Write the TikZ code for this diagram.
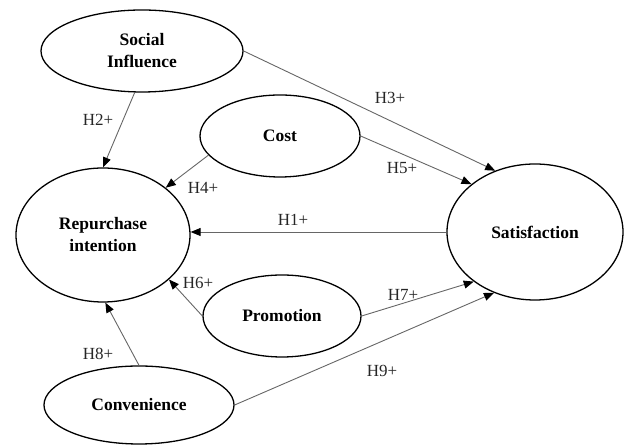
\documentclass[tikz,border=0pt]{standalone}
\usepackage{fontspec}
\setmainfont{Liberation Serif}
\usetikzlibrary{shapes.geometric,arrows.meta}
\tikzset{
  construct/.style={ellipse, draw=black, line width=1.3pt, inner sep=0pt,
    align=center, font=\fontsize{17.5}{22}\selectfont\bfseries},
  path/.style={draw=black!60, line width=0.9pt, -{Triangle[length=10pt,width=8pt,fill=black,color=black]}},
  hlabel/.style={font=\fontsize{17}{18}\selectfont, inner sep=0pt, text=black!85}
}
\begin{document}
\begin{tikzpicture}[x=1pt,y=1pt]
\useasboundingbox (0,0) rectangle (624,446);
\node[construct, minimum width=202pt, minimum height=82pt] (si) at (142,395) {Social\\Influence};
\node[construct, minimum width=160pt, minimum height=82pt] (cost) at (280,310) {Cost};
\node[construct, minimum width=174pt, minimum height=134pt] (ri) at (103,211) {Repurchase\\intention};
\node[construct, minimum width=176pt, minimum height=136pt] (sat) at (535,214) {Satisfaction};
\node[construct, minimum width=158pt, minimum height=82pt] (promo) at (282,130) {Promotion};
\node[construct, minimum width=190pt, minimum height=78pt] (conv) at (139,41) {Convenience};

\draw[path] (si.260) -- (ri.north);
\draw[path] (si.east) -- (sat.123);
\draw[path] (cost.195) -- (ri.37);
\draw[path] (cost.east) -- (sat.143);
\draw[path] (sat.west) -- (ri.east |- sat.west);
\draw[path] (promo.west) -- (ri.326);
\draw[path] (promo.east) -- (sat.219);
\draw[path] (conv.north) -- (ri.272);
\draw[path] (conv.east) -- (sat.236);

\node[hlabel] (l2) at (98,326) {H2+};
\node[hlabel] (l3) at (390,348) {H3+};
\node[hlabel] (l4) at (203,258) {H4+};
\node[hlabel] (l5) at (402,278) {H5+};
\node[hlabel] (l1) at (293,226) {H1+};
\node[hlabel] (l6) at (198,163) {H6+};
\node[hlabel] (l7) at (403,151) {H7+};
\node[hlabel] (l8) at (98,92) {H8+};
\node[hlabel] (l9) at (382,75) {H9+};
\end{tikzpicture}
\end{document}
